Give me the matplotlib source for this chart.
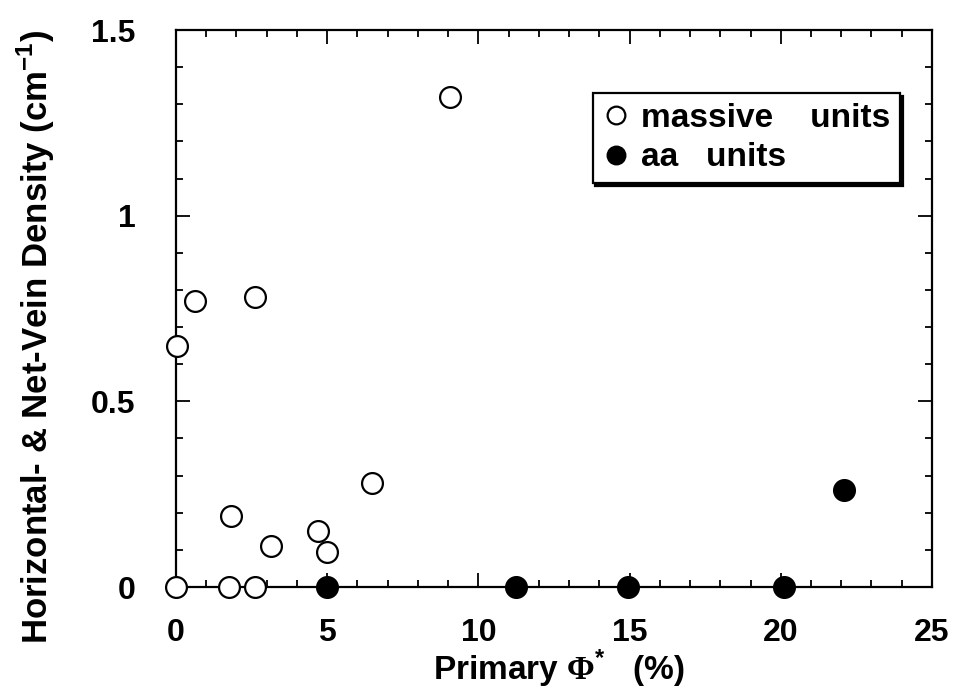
import matplotlib
matplotlib.use('Agg')
import matplotlib.pyplot as plt
from matplotlib.ticker import MultipleLocator

plt.rcParams['font.family'] = 'Liberation Sans'
plt.rcParams['font.weight'] = 'bold'
plt.rcParams['mathtext.fontset'] = 'custom'
plt.rcParams['mathtext.rm'] = 'Liberation Serif:bold'
plt.rcParams['mathtext.bf'] = 'Liberation Sans:bold'

# massive units (open symbols)
massive_phi = [0.0, 0.05, 0.63, 2.6, 9.05, 1.75, 2.6, 1.83, 3.13, 4.71, 4.98, 6.49]
massive_density = [0.0, 0.65, 0.77, 0.78, 1.32, 0.0, 0.0, 0.19, 0.11, 0.15, 0.093, 0.28]

# aa units (filled symbols)
aa_phi = [5.0, 11.25, 14.95, 20.1, 22.1]
aa_density = [0.0, 0.0, 0.0, 0.0, 0.26]

fig = plt.figure(figsize=(9.61, 6.92), dpi=100)
ax = fig.add_axes([0.1831, 0.1517, 0.7867, 0.8049])

ax.plot(massive_phi, massive_density, 'o', ms=15, mfc='white', mec='black', mew=1.6,
        clip_on=False, zorder=3, label='massive    units')
ax.plot(aa_phi, aa_density, 'o', ms=15, mfc='black', mec='black', mew=1.6,
        clip_on=False, zorder=3, label='aa   units')

ax.set_xlim(0, 25)
ax.set_ylim(0, 1.5)
ax.xaxis.set_major_locator(MultipleLocator(5))
ax.xaxis.set_minor_locator(MultipleLocator(1))
ax.yaxis.set_major_locator(MultipleLocator(0.5))
ax.yaxis.set_minor_locator(MultipleLocator(0.1))
ax.yaxis.set_major_formatter(plt.FuncFormatter(lambda v, p: '%g' % v))

for s in ax.spines.values():
    s.set_linewidth(1.6)
ax.tick_params(which='both', direction='in', top=True, right=True, width=1.3)
ax.tick_params(which='major', length=10)
ax.tick_params(which='minor', length=5)
ax.tick_params(axis='x', which='major', labelsize=23, pad=22)
ax.tick_params(axis='y', which='major', labelsize=23, pad=29)

ax.set_xlabel(r'Primary $\mathrm{\Phi}^{\mathbf{*}}$   (%)', fontsize=24, fontweight='bold', va='baseline')
ax.xaxis.set_label_coords(0.507, -0.167)
ax.set_ylabel(r'Horizontal- & Net-Vein Density (cm$^{\mathbf{-1}}$)', fontsize=25, fontweight='bold')
ax.yaxis.set_label_coords(-0.158, 0.45)

leg = ax.legend(loc='upper right', bbox_to_anchor=(0.958, 0.887), borderaxespad=0,
                fontsize=24, fancybox=False, shadow={'color': 'black', 'alpha': 1},
                handletextpad=0.35, handlelength=0.8, borderpad=0.3,
                labelspacing=0.25, markerscale=0.85)
leg.get_frame().set_edgecolor('black')
leg.get_frame().set_linewidth(1.6)
leg.get_frame().set_alpha(1)

fig.savefig('out.png', dpi=100)
